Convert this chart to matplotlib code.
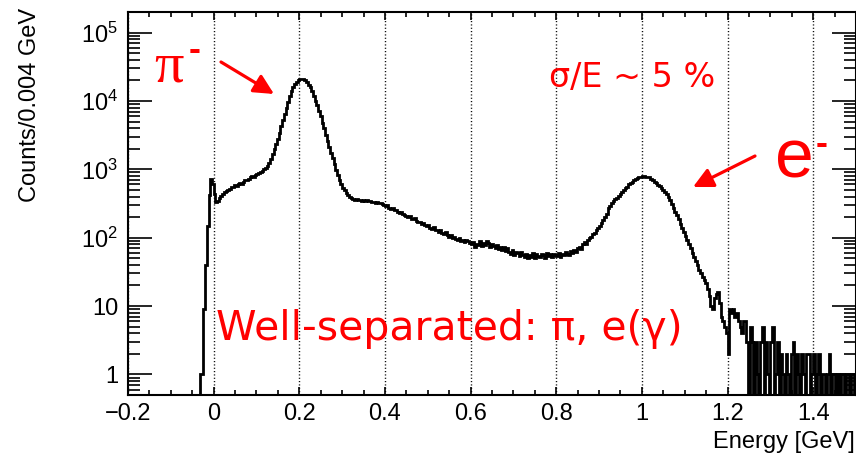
import numpy as np
import matplotlib
matplotlib.use("Agg")
import matplotlib.pyplot as plt
from matplotlib.ticker import FixedLocator, MultipleLocator, LogLocator, NullFormatter

# ---------------- data ----------------
bin_width = 0.004
x_min, x_max = -0.2, 1.5
y_min, y_max = 0.5, 2e5

counts = [
    # -0.20 .. -0.04 : empty
    0, 0, 0, 0, 0, 0, 0, 0, 0, 0,
    0, 0, 0, 0, 0, 0, 0, 0, 0, 0,
    0, 0, 0, 0, 0, 0, 0, 0, 0, 0,
    0, 0, 0, 0, 0, 0, 0, 0, 0, 0,
    # -0.04 .. 0.00
    0, 0, 1, 1, 9, 40, 150, 420, 720, 620,
    # 0.00 .. 0.04
    430, 330, 340, 380, 410, 440, 460, 480, 500, 520,
    # 0.04 .. 0.08
    545, 560, 585, 575, 610, 630, 620, 660, 690, 700,
    # 0.08 .. 0.12
    730, 760, 790, 775, 820, 850, 880, 920, 960, 1010,
    # 0.12 .. 0.16
    1060, 1120, 1250, 1420, 1650, 1950, 2350, 2800, 3400, 4300,
    # 0.16 .. 0.20
    5300, 6500, 8000, 9800, 11800, 13900, 15800, 17600, 19000, 20200,
    # 0.20 .. 0.24
    20900, 21100, 20800, 20000, 18800, 17300, 15800, 13800, 11800, 10000,
    # 0.24 .. 0.28
    8700, 7200, 6000, 4800, 4000, 3200, 2600, 2100, 1750, 1450,
    # 0.28 .. 0.32
    1200, 980, 820, 700, 610, 540, 490, 450, 420, 400,
    # 0.32 .. 0.36
    385, 372, 360, 366, 352, 358, 348, 355, 342, 350,
    # 0.36 .. 0.40
    340, 345, 330, 338, 325, 332, 318, 325, 312, 305,
    # 0.40 .. 0.44
    290, 300, 275, 265, 272, 250, 258, 240, 232, 238,
    # 0.44 .. 0.48
    225, 215, 210, 200, 205, 190, 185, 192, 178, 172,
    # 0.48 .. 0.52
    168, 160, 165, 152, 148, 155, 140, 136, 142, 130,
    # 0.52 .. 0.56
    128, 122, 130, 118, 112, 120, 108, 104, 110, 100,
    # 0.56 .. 0.60
    102, 96, 92, 99, 90, 94, 86, 91, 88, 84,
    # 0.60 .. 0.64
    80, 86, 74, 82, 78, 88, 76, 83, 79, 90,
    # 0.64 .. 0.68
    84, 72, 80, 76, 70, 78, 68, 74, 66, 72,
    # 0.68 .. 0.72
    64, 70, 62, 58, 66, 56, 62, 60, 54, 61,
    # 0.72 .. 0.76
    56, 52, 58, 50, 55, 53, 59, 51, 57, 54,
    # 0.76 .. 0.80
    52, 58, 55, 50, 60, 54, 57, 52, 58, 55,
    # 0.80 .. 0.84
    54, 60, 52, 57, 55, 62, 58, 56, 64, 60,
    # 0.84 .. 0.88
    66, 62, 70, 74, 68, 80, 86, 82, 92, 98,
    # 0.88 .. 0.92
    104, 112, 118, 128, 140, 150, 165, 180, 200, 225,
    # 0.92 .. 0.96
    270, 295, 320, 345, 365, 385, 405, 440, 470, 500,
    # 0.96 .. 1.00
    525, 560, 600, 625, 660, 690, 720, 745, 770, 785,
    # 1.00 .. 1.04
    790, 800, 785, 780, 760, 730, 700, 660, 630, 590,
    # 1.04 .. 1.08
    575, 540, 500, 465, 430, 395, 355, 310, 270, 240,
    # 1.08 .. 1.12
    215, 185, 160, 140, 120, 105, 92, 80, 70, 60,
    # 1.12 .. 1.16
    52, 45, 40, 34, 30, 27, 24, 22, 18, 14,
    # 1.16 .. 1.20
    10, 9, 13, 15, 16, 11, 7, 6, 5, 4,
    # 1.20 .. 1.24
    2, 9, 8, 9, 7, 8, 6, 5, 4, 6,
    # 1.24 .. 1.28
    6, 3, 0, 5, 3, 0, 3, 1, 0, 3,
    # 1.28 .. 1.32
    5, 0, 3, 1, 0, 3, 5, 0, 1, 3,
    # 1.32 .. 1.36
    0, 2, 1, 0, 2, 1, 0, 2, 3, 0,
    # 1.36 .. 1.40
    2, 1, 0, 2, 1, 0, 2, 2, 0, 1,
    # 1.40 .. 1.44
    2, 0, 1, 2, 0, 1, 1, 0, 1, 2,
    # 1.44 .. 1.48
    0, 1, 1, 0, 1, 0, 1, 1, 0, 1,
    # 1.48 .. 1.50
    1, 0, 1, 1, 0,
]

x_major_ticks = [-0.2, 0.0, 0.2, 0.4, 0.6, 0.8, 1.0, 1.2, 1.4]
x_tick_labels = ["\u22120.2", "0", "0.2", "0.4", "0.6", "0.8", "1", "1.2", "1.4"]
y_major_ticks = [1, 10, 100, 1000, 1e4, 1e5]
y_tick_labels = ["1", "10", r"$10^{2}$", r"$10^{3}$", r"$10^{4}$", r"$10^{5}$"]

# ---------------- figure ----------------
W, H = 856, 455
plt.rcParams["font.family"] = ["Liberation Sans", "DejaVu Sans"]
plt.rcParams["mathtext.fontset"] = "custom"
plt.rcParams["mathtext.rm"] = "Liberation Sans"
plt.rcParams["mathtext.it"] = "Liberation Sans:italic"

fig = plt.figure(figsize=(W / 100, H / 100), dpi=100)
ax_left, ax_right, ax_top, ax_bottom = 128, 856, 12, 395
ax = fig.add_axes([ax_left / W, 1 - ax_bottom / H,
                   (ax_right - ax_left) / W, (ax_bottom - ax_top) / H])


def fp(x, y):
    return (x / W, 1 - y / H)


c = np.asarray(counts, dtype=float)
edges = x_min + bin_width * np.arange(len(c) + 1)
plot_vals = np.where(c > 0, c, 1e-3)  # empty bins drop below the axis (as on a log plot)
ax.stairs(plot_vals, edges, baseline=None, color="black", lw=2.0)

ax.set_yscale("log")
ax.set_xlim(x_min, x_max)
ax.set_ylim(y_min, y_max)

ax.xaxis.set_major_locator(FixedLocator(x_major_ticks))
ax.set_xticklabels(x_tick_labels)
ax.xaxis.set_minor_locator(MultipleLocator(0.05))
ax.yaxis.set_major_locator(FixedLocator(y_major_ticks))
ax.set_yticklabels(y_tick_labels)
ax.yaxis.set_minor_locator(LogLocator(base=10, subs=np.arange(2, 10)))
ax.yaxis.set_minor_formatter(NullFormatter())

ax.tick_params(axis="both", which="both", direction="in", top=True, right=True,
               labelsize=17, width=1.2)
ax.tick_params(axis="x", which="major", length=6, pad=6)
ax.tick_params(axis="x", which="minor", length=3.8)
ax.tick_params(axis="y", which="major", length=17, pad=7)
ax.tick_params(axis="y", which="minor", length=8.5)

for s in ax.spines.values():
    s.set_linewidth(1.5)

ax.set_axisbelow(True)
ax.grid(axis="x", which="major", color="black", linestyle=(0, (0.8, 1.6)), lw=1.0)

# axis titles (ROOT style, aligned to axis ends)
fig.text(30 / W, 1 - 8 / H, "Counts/0.004 GeV", rotation=90, fontsize=17,
         ha="center", va="top")
fig.text(855 / W, 1 - 442 / H, "Energy [GeV]", fontsize=17,
         ha="right", va="center")

# annotations
red = "#ff0000"
fig.text(*fp(154, 82), "\u03c0", family=["Liberation Serif", "DejaVu Serif"],
         fontsize=42, color=red, ha="left", va="baseline")
fig.text(*fp(189, 60), "-", fontsize=26, fontweight="bold", color=red,
         ha="left", va="baseline")
fig.text(*fp(775, 177), "e", fontsize=50, color=red, ha="left", va="baseline")
fig.text(*fp(816, 154), "-", fontsize=26, fontweight="bold", color=red,
         ha="left", va="baseline")
fig.text(*fp(549, 87), "\u03c3/E ~ 5 %", family="DejaVu Sans", fontsize=24,
         color=red, ha="left", va="baseline")
fig.text(*fp(216, 340), "Well-separated: \u03c0, e(\u03b3)", family="DejaVu Sans",
         fontsize=29.5, color=red, ha="left", va="baseline")

arrow = dict(arrowstyle="-|>,head_length=1.0,head_width=0.5", color=red, lw=2.3,
             mutation_scale=12, shrinkA=0, shrinkB=0)
ax.annotate("", xy=fp(274, 94), xytext=fp(221, 62), xycoords="figure fraction",
            textcoords="figure fraction", arrowprops=arrow)
ax.annotate("", xy=fp(693, 187), xytext=fp(755, 156), xycoords="figure fraction",
            textcoords="figure fraction", arrowprops=arrow)

fig.savefig("out.png", dpi=100)
